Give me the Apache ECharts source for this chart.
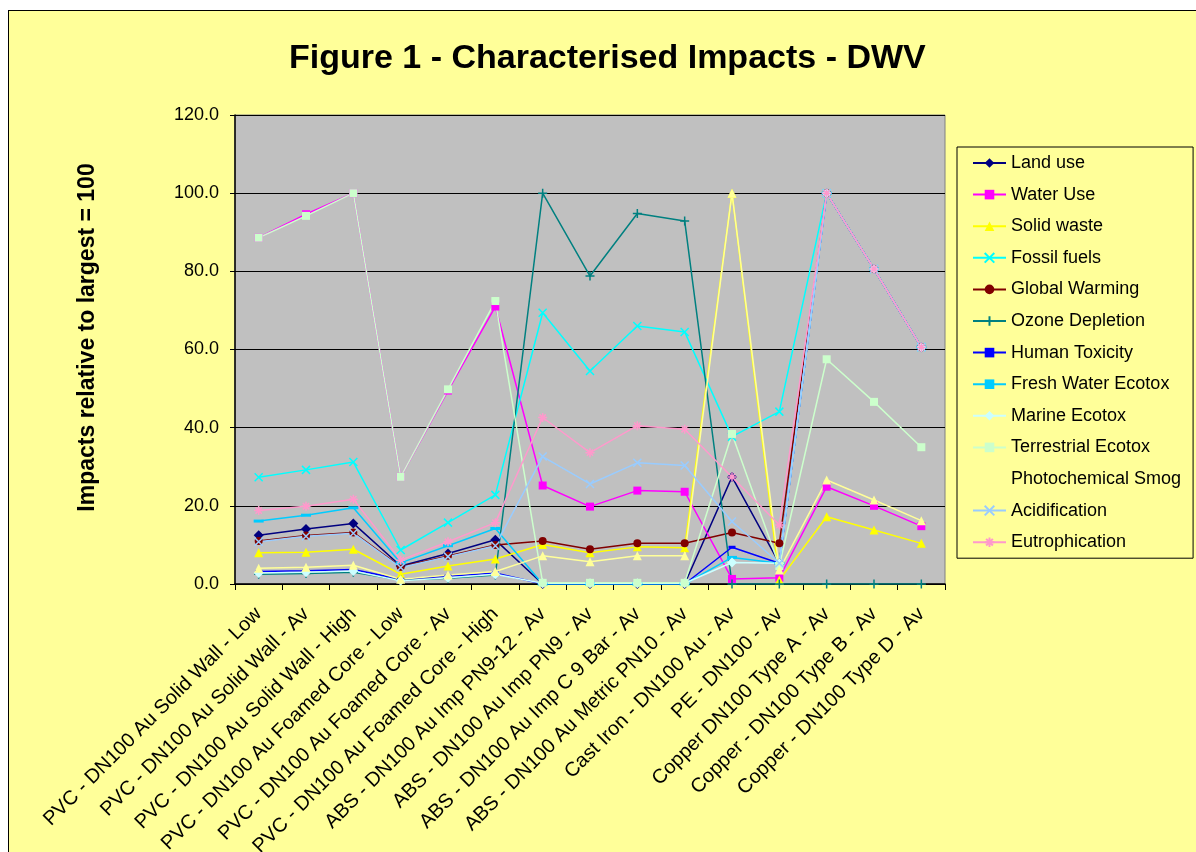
<!DOCTYPE html>
<html>
<head>
<meta charset="utf-8">
<title>Figure 1 - Characterised Impacts - DWV</title>
<script src="https://cdn.jsdelivr.net/npm/echarts@6/dist/echarts.min.js"></script>
<style>
  html, body { margin: 0; padding: 0; background: #fff; }
  #Backdrop { position: absolute; left: 8px; top: 10px; width: 1200px; height: 860px;
    background: #ffff99; border-left: 1.5px solid #000; border-top: 1.5px solid #000; }
  #Chart { position: absolute; left: 0; top: 0; width: 1196px; height: 852px; }
</style>
</head>
<body>
<div id="Backdrop"></div>
<div id="Chart"></div>
<script>
"use strict";
/** Pipe systems along the x axis */
const categories = [
    "PVC - DN100 Au Solid Wall - Low",
    "PVC - DN100 Au Solid Wall - Av",
    "PVC - DN100 Au Solid Wall - High",
    "PVC - DN100 Au Foamed Core - Low",
    "PVC - DN100 Au Foamed Core - Av",
    "PVC - DN100 Au Foamed Core - High",
    "ABS - DN100 Au Imp PN9-12 - Av",
    "ABS - DN100 Au Imp PN9 - Av",
    "ABS - DN100 Au Imp C 9 Bar - Av",
    "ABS - DN100 Au Metric PN10 - Av",
    "Cast Iron - DN100 Au - Av",
    "PE - DN100 - Av",
    "Copper DN100 Type A - Av",
    "Copper - DN100 Type B - Av",
    "Copper - DN100 Type D - Av"
];
/** Impact values, relative to largest = 100 */
const landUse = [12.5, 14.1, 15.5, 4.6, 7.8, 11.3, 0, 0, 0, 0, 27.4, 5.3, 100, 80.6, 60.6];
const waterUse = [88.6, 94.6, 100, 27.4, 49.5, 71.0, 25.2, 19.8, 23.9, 23.6, 1.3, 1.6, 24.9, 20.0, 14.8];
const solidWaste = [8.0, 8.1, 8.9, 2.5, 4.6, 6.4, 10.1, 8.0, 9.5, 9.3, 100, 1.0, 17.2, 13.8, 10.4];
const fossilFuels = [27.3, 29.2, 31.2, 8.7, 15.7, 22.8, 69.4, 54.5, 66.0, 64.5, 37.7, 44.1, 100, 80.6, 60.6];
const globalWarming = [11.0, 12.4, 13.2, 4.4, 7.2, 10.0, 11.0, 8.9, 10.4, 10.4, 13.2, 10.4, 100, 80.6, 60.6];
const ozoneDepletion = [2.5, 2.7, 3.0, 1.0, 1.5, 2.3, 100, 78.8, 94.8, 92.9, 0, 0, 0, 0, 0];
const humanToxicity = [3.2, 3.4, 3.7, 1.2, 2.0, 2.8, 0, 0, 0, 0, 9.4, 5.3, 100, 80.6, 60.6];
const freshWaterEcotox = [16.1, 17.6, 19.5, 5.4, 9.8, 14.2, 0, 0, 0, 0, 6.8, 5.3, 100, 80.6, 60.6];
const marineEcotox = [2.8, 3.0, 3.3, 0.8, 1.6, 2.5, 0.2, 0.2, 0.2, 0.2, 5.5, 5.3, 100, 80.6, 60.6];
const terrestrialEcotox = [88.6, 94.2, 100, 27.4, 49.8, 72.4, 0.3, 0.3, 0.3, 0.3, 38.4, 4.6, 57.5, 46.6, 35.0];
const photochemicalSmog = [4.0, 4.3, 4.8, 1.2, 2.3, 3.2, 7.2, 5.7, 7.2, 7.2, 100, 3.6, 26.6, 21.5, 16.2];
const acidification = [10.8, 12.2, 13.0, 4.2, 7.0, 9.8, 32.6, 25.6, 31.0, 30.3, 16.0, 5.3, 100, 80.6, 60.6];
const eutrophication = [18.8, 19.9, 21.7, 6.1, 10.8, 15.7, 42.6, 33.6, 40.5, 39.6, 27.4, 15.1, 100, 80.6, 60.6];

/* marker shapes like the Excel ones */
const X_MARK = "path://M0,0L10,10M10,0L0,10";
const PLUS_MARK = "path://M5,0L5,10M0,5L10,5";
const STAR_MARK = "path://M5,0L5,10M0,5L10,5M1.5,1.5L8.5,8.5M8.5,1.5L1.5,8.5";

const FONT = "'Liberation Sans', Arial, sans-serif";

// name, data, colour, symbol, size, stroked marker?
const seriesDefs = [
    ["Land use", landUse, "#000080", "diamond", 10, false],
    ["Water Use", waterUse, "#ff00ff", "rect", 8, false],
    ["Solid waste", solidWaste, "#ffff00", "triangle", 9, false],
    ["Fossil fuels", fossilFuels, "#00ffff", X_MARK, 8, true],
    ["Global Warming", globalWarming, "#800000", "circle", 8, false],
    ["Ozone Depletion", ozoneDepletion, "#008080", PLUS_MARK, 9, true],
    ["Human Toxicity", humanToxicity, "#0000ff", "rect", [7, 3], false],
    ["Fresh Water Ecotox", freshWaterEcotox, "#00ccff", "rect", [10, 3], false],
    ["Marine Ecotox", marineEcotox, "#ccffff", "diamond", 10, false],
    ["Terrestrial Ecotox", terrestrialEcotox, "#ccffcc", "rect", 8, false],
    ["Photochemical Smog", photochemicalSmog, "#ffff99", "triangle", 9, false],
    ["Acidification", acidification, "#99ccff", X_MARK, 8, true],
    ["Eutrophication", eutrophication, "#ff99cc", STAR_MARK, 9, true]
];

function MakeSeries(def) {
    const [name, data, color, symbol, size, stroked] = def;
    return {
        name: name,
        type: "line",
        data: data,
        symbol: symbol,
        symbolSize: size,
        showAllSymbol: true,
        lineStyle: { color: color, width: 1.5 },
        itemStyle: stroked
            ? { color: color, borderColor: color, borderWidth: 1.5 }
            : { color: color, borderWidth: 0 },
        emphasis: { disabled: true }
    };
}

let chart = echarts.init(document.getElementById("Chart"), null, { renderer: "canvas" });
chart.setOption({
    animation: false,
    backgroundColor: "transparent",
    textStyle: { fontFamily: FONT },
    title: {
        text: "Figure 1 - Characterised Impacts - DWV",
        left: 289,
        top: 42,
        padding: 0,
        textStyle: { fontSize: 34, fontWeight: "bold", color: "#000", fontFamily: FONT }
    },
    legend: {
        orient: "vertical",
        left: 957,
        top: 147,
        padding: [6, 12, 6, 15],
        itemWidth: 33,
        itemHeight: 12,
        itemGap: 11.6,
        backgroundColor: "#ffff99",
        borderColor: "#000",
        borderWidth: 1,
        textStyle: { fontSize: 18, lineHeight: 20, color: "#000", fontFamily: FONT },
        data: seriesDefs.map((d) => d[0])
    },
    grid: {
        left: 235,
        right: 251,
        top: 115,
        bottom: 268,
        containLabel: false,
        outerBoundsMode: "none",
        show: true,
        backgroundColor: "#c0c0c0",
        borderColor: "#808080",
        borderWidth: 1
    },
    xAxis: {
        type: "category",
        data: categories,
        boundaryGap: true,
        axisLine: { lineStyle: { color: "#000", width: 1.5 } },
        axisTick: { show: true, interval: 0, length: 6, lineStyle: { color: "#000" } },
        axisLabel: {
            interval: 0,
            rotate: 45,
            margin: 27,
            fontSize: 20,
            color: "#000",
            fontFamily: FONT
        }
    },
    yAxis: {
        type: "value",
        min: 0,
        max: 120,
        interval: 20,
        name: "Impacts relative to largest = 100",
        nameLocation: "middle",
        nameGap: 136,
        nameTextStyle: {
            fontSize: 23,
            fontWeight: "bold",
            color: "#000",
            fontFamily: FONT,
            padding: [0, 0, 0, 24]
        },
        axisLine: { show: true, lineStyle: { color: "#000", width: 1.5 } },
        axisTick: { show: true, length: 5, lineStyle: { color: "#000" } },
        axisLabel: {
            margin: 16,
            fontSize: 18,
            color: "#000",
            fontFamily: FONT,
            formatter: (v) => v.toFixed(1)
        },
        splitLine: { show: true, lineStyle: { color: "#000", width: 1 } }
    },
    series: seriesDefs.map(MakeSeries)
});
</script>
</body>
</html>
